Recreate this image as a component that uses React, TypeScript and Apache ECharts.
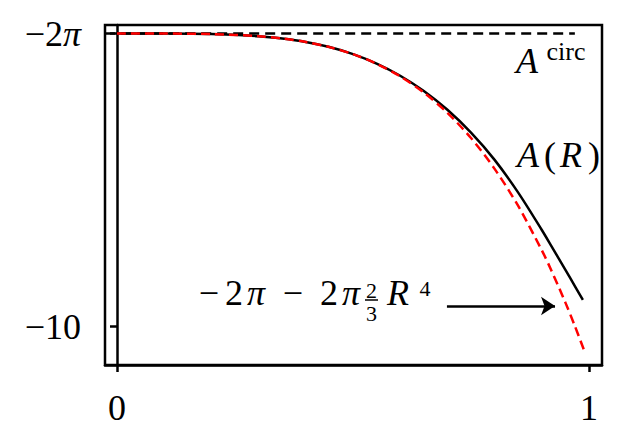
import React, { useEffect, useRef } from "react";
import * as echarts from "echarts";

const TWO_PI = 2 * Math.PI;

// Radius samples (x) and values
const rRed = [0, 0.1, 0.2, 0.3, 0.35, 0.4, 0.45, 0.5, 0.55, 0.6, 0.65, 0.7, 0.75, 0.8, 0.85, 0.9, 0.92, 0.95, 0.97, 0.99];
const approxValues = [-6.2832, -6.2836, -6.2899, -6.3171, -6.3461, -6.3904, -6.455, -6.545, -6.6665, -6.8261, -7.0309, -7.2889, -7.6085, -7.9989, -8.4698, -9.0315, -9.284, -9.695, -9.9916, -10.307];

const rBlack = [0, 0.1, 0.2, 0.3, 0.35, 0.4, 0.45, 0.5, 0.55, 0.6, 0.65, 0.7, 0.75, 0.8, 0.85, 0.9, 0.92, 0.95, 0.97, 0.987];
const exactValues = [-6.2832, -6.2836, -6.2899, -6.3171, -6.346, -6.39, -6.455, -6.544, -6.664, -6.818, -7.012, -7.25, -7.54, -7.885, -8.3, -8.774, -8.975, -9.28, -9.485, -9.66];

const circX = [-0.025, 0.97];
const circY = [-TWO_PI, -TWO_PI];

const xTicks = [0, 1];
const yTicks = [-10, -TWO_PI];

const arrowY = -9.738;
const arrowX = [0.699, 0.928];

const FONT = "'Liberation Serif', serif";

export default function App() {
  const ref = useRef<HTMLDivElement>(null);
  useEffect(() => {
    if (!ref.current) return;
    const chart = echarts.init(ref.current, null, { renderer: "svg" });
    const lw = 2.5;
    const t = (text: string, x: number, y: number, size: number, italic = false, align = "center") => ({
      type: "text",
      x,
      y,
      silent: true,
      style: { text, font: `${italic ? "italic " : ""}${size}px ${FONT}`, fill: "#000", textAlign: align },
    });
    chart.setOption({
      animation: false,
      backgroundColor: "#ffffff",
      grid: {
        left: 105,
        top: 25,
        right: 20,
        bottom: 62,
        show: true,
        borderColor: "#000",
        borderWidth: lw,
      },
      xAxis: {
        type: "value",
        min: -0.0254,
        max: 1.0275,
        splitLine: { show: false },
        axisLine: { show: true, lineStyle: { color: "#000", width: lw } },
        axisTick: { show: true, customValues: xTicks, length: 7, lineStyle: { color: "#000", width: lw } },
        axisLabel: {
          customValues: xTicks,
          margin: 25,
          color: "#000",
          fontFamily: FONT,
          fontSize: 36,
          formatter: (v: number) => String(v),
        },
      },
      yAxis: {
        type: "value",
        min: -10.486,
        max: -6.175,
        splitLine: { show: false },
        axisLine: { show: true, lineStyle: { color: "#000", width: lw } },
        axisTick: { show: true, customValues: yTicks, length: 7, lineStyle: { color: "#000", width: lw } },
        axisLabel: {
          customValues: yTicks,
          margin: 24,
          color: "#000",
          fontFamily: FONT,
          fontSize: 36,
          formatter: (v: number) => (Math.abs(v + 10) < 1e-6 ? "−10" : "−2{i|π}"),
          rich: {
            i: { fontStyle: "italic", fontFamily: FONT, fontSize: 36, color: "#000" },
          },
        },
      },
      series: [
        {
          type: "line",
          name: "circ",
          data: circX.map((x, i) => [x, circY[i]]),
          symbol: "none",
          lineStyle: { color: "#000", width: lw, type: [10, 6] },
          silent: true,
        },
        {
          type: "line",
          name: "A",
          data: rBlack.map((x, i) => [x, exactValues[i]]),
          symbol: "none",
          smooth: 0.3,
          lineStyle: { color: "#000", width: lw },
          silent: true,
          markLine: {
            silent: true,
            symbol: ["none", "arrow"],
            symbolSize: 14,
            label: { show: false },
            lineStyle: { color: "#000", width: lw, type: "solid" },
            data: [[{ coord: [arrowX[0], arrowY] }, { coord: [arrowX[1], arrowY] }]],
          },
        },
        {
          type: "line",
          name: "approx",
          data: rRed.map((x, i) => [x, approxValues[i]]),
          symbol: "none",
          smooth: 0.3,
          lineStyle: { color: "#ff0000", width: lw, type: [9, 5] },
          silent: true,
        },
      ],
      graphic: [
        t("A", 527, 43, 36, true),
        t("circ", 566, 38, 26),
        t("A", 528, 137, 36, true),
        t("(", 550, 137, 36),
        t("R", 571, 137, 36, true),
        t(")", 594, 137, 36),
        t("−", 209, 275, 36),
        t("2", 234, 275, 36),
        t("π", 256, 275, 36, true),
        t("−", 293, 275, 36),
        t("2", 329, 275, 36),
        t("π", 351, 275, 36, true),
        t("2", 371.5, 279, 22),
        { type: "line", silent: true, shape: { x1: 365, y1: 300, x2: 378, y2: 300 }, style: { stroke: "#000", lineWidth: 1.5 } },
        t("3", 371.5, 302, 22),
        t("R", 398, 275, 36, true),
        t("4", 425, 277, 22),
      ],
    });
    return () => chart.dispose();
  }, []);
  return <div ref={ref} style={{ position: "fixed", left: 0, top: 0, width: 622, height: 427 }} />;
}
